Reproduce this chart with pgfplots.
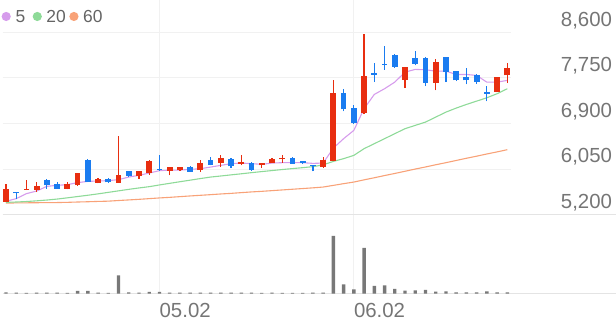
\documentclass[border=0pt]{standalone}
\usepackage{fontspec}
\setmainfont{Liberation Sans}
\usepackage{pgfplots}
\usepackage{pgfplotstable}
\pgfplotsset{compat=1.18}
\definecolor{upred}{RGB}{232,46,16}
\definecolor{dnblue}{RGB}{26,124,240}
\definecolor{volgray}{RGB}{120,120,120}
\definecolor{maA}{RGB}{214,156,236}
\definecolor{maB}{RGB}{142,218,152}
\definecolor{maC}{RGB}{248,162,120}
\definecolor{gridc}{RGB}{241,241,241}
\definecolor{sepc}{RGB}{228,228,228}
\definecolor{labc}{RGB}{117,117,117}
\definecolor{legc}{RGB}{100,100,100}

\pgfplotstableread{
i o h l c
0 5438 5764 5438 5684
2 5660 5851 5655 5680
3 5666 5807 5621 5727
6 5684 5801 5671 5777
7 5746 5985 5740 5975
9 5796 5889 5783 5870
11 5796 6664 5790 5945
13 5919 6010 5870 6006
14 5982 6224 5945 6205
16 6019 6090 5932 6082
17 6030 6085 6015 6080
19 6030 6217 5993 6168
21 6168 6304 6094 6260
23 6150 6317 6118 6180
25 6118 6165 6068 6161
26 6161 6250 6155 6242
27 6230 6317 6168 6260
31 6087 6273 6075 6224
32 6198 7714 6190 7464
35 7092 8570 7080 7775
39 7714 7955 7557 7948
42 7657 8092 7514 8042
48 7490 7770 7480 7763
49 7794 8023 7650 7937
}\upc

\pgfplotstableread{
i o h l c
1 5621 5621 5485 5597
4 5852 5860 5684 5746
5 5770 5807 5684 5684
8 6224 6242 5807 5807
10 5870 5875 5795 5800
12 6006 6015 5910 5919
15 6056 6317 6019 6030
18 6094 6100 5995 6001
20 6217 6267 6118 6131
22 6242 6250 6068 6099
24 6168 6180 6019 6038
28 6260 6265 6145 6150
29 6192 6195 6150 6160
30 6131 6131 6006 6110
33 7464 7546 7123 7160
34 7185 7235 6894 6913
36 7837 8030 7669 7810
37 8012 8334 7900 7990
38 8179 8185 7940 7948
40 8123 8247 7980 8012
41 8123 8130 7594 7657
43 8135 8142 7669 7855
44 7868 7880 7690 7700
45 7763 7937 7626 7700
46 7806 7815 7639 7669
47 7483 7589 7312 7453
}\dnc

\pgfplotstableread{
i m5 m20 m60
0 5448 5429 5416
1 5498 5435 5418
2 5591 5444 5420
3 5639 5457 5422
4 5727 5472 5423
5 5746 5490 5425
6 5758 5513 5429
7 5796 5537 5435
8 5820 5561 5440
9 5826 5587 5446
10 5833 5615 5451
11 5852 5643 5463
12 5900 5671 5474
13 5932 5697 5485
14 5975 5721 5498
15 6019 5753 5511
16 6030 5783 5522
17 6030 5813 5535
18 6043 5842 5548
19 6056 5872 5560
20 6086 5900 5572
21 6118 5920 5585
22 6150 5941 5596
23 6161 5961 5610
24 6150 5982 5623
25 6137 6002 5634
26 6161 6021 5647
27 6168 6040 5660
28 6168 6058 5673
29 6168 6075 5686
30 6155 6094 5699
31 6161 6127 5714
32 6440 6192 5745
33 6615 6243 5777
34 6770 6304 5807
35 7174 6429 5848
36 7440 6522 5887
37 7546 6615 5928
38 7669 6708 5967
39 7855 6801 6008
40 7906 6863 6049
41 7900 6924 6088
42 7874 7017 6129
43 7874 7110 6168
44 7812 7185 6209
45 7812 7253 6250
46 7794 7315 6289
47 7669 7378 6330
48 7669 7453 6369
49 7701 7546 6410
}\ma

\pgfplotstableread{
i v
0 1.3
1 1.0
2 0.8
3 1.0
4 1.0
5 1.0
6 0.8
7 2.7
8 2.7
9 1.0
10 0.8
11 18.3
12 1.3
13 1.0
14 1.7
15 1.7
16 1.0
17 1.0
18 1.0
19 1.0
20 1.0
21 1.0
22 1.0
23 1.0
24 1.0
25 0.8
26 1.0
27 0.8
28 0.8
29 0.8
30 1.0
31 1.0
32 57.7
33 9.3
34 4.3
35 45.7
36 7.7
37 8.3
38 4.7
39 3.0
40 3.3
41 3.7
42 2.0
43 2.3
44 1.3
45 1.3
46 1.3
47 2.3
48 1.3
49 1.3
}\vol

\newcommand{\labfont}{\fontsize{20.5}{24}\selectfont}
\newcommand{\legfont}{\fontsize{17.5}{21}\selectfont}

\begin{document}
\begin{tikzpicture}
\path (0bp,0bp) rectangle (616bp,321bp);

% background vertical grid + date labels
\begin{axis}[
  at={(2.7bp,27.7bp)}, anchor=south west, scale only axis,
  width=509bp, height=293.3bp,
  xmin=-0.32, xmax=49.39, ymin=0, ymax=1,
  axis line style={draw=none}, tick style={draw=none},
  ytick=\empty, xtick={15,34}, xticklabels={05.02,06.02},
  xmajorgrids, major grid style={gridc, line width=1bp},
  xticklabel style={anchor=base west, inner sep=0pt, yshift=-23.7bp, text=labc, font=\labfont},
]
\addplot[draw=none] coordinates {(0,0.5)};
\end{axis}

% volume
\begin{axis}[
  at={(2.7bp,27.7bp)}, anchor=south west, scale only axis,
  width=613.3bp, height=60bp,
  xmin=-0.32, xmax=59.57, ymin=0, ymax=60,
  axis x line*=bottom, axis y line=none,
  x axis line style={sepc, line width=1bp},
  xtick=\empty, ytick=\empty, tick style={draw=none},
  ybar, bar width=3.4bp,
]
\addplot[draw=none, fill=volgray] table[x=i, y=v] {\vol};
\end{axis}

% price
\begin{axis}[
  at={(2.7bp,106.7bp)}, anchor=south west, scale only axis,
  width=509bp, height=182.6bp,
  xmin=-0.32, xmax=49.39, ymin=5200, ymax=8600,
  axis line style={draw=none}, tick style={draw=none},
  xtick=\empty, ytick={5200,6050,6900,7750,8600},
  ymajorgrids, major grid style={gridc, line width=1bp},
  scaled y ticks=false,
  yticklabel pos=right,
  yticklabel style={anchor=base east, inner sep=0pt, xshift=101bp, yshift=6.05bp, text=labc, font=\labfont,
    /pgf/number format/.cd, 1000 sep={,}, assume math mode=true},
  clip=false,
]
\addplot[maC, line width=1.1bp] table[x=i, y=m60] {\ma};
\addplot[maB, line width=1.1bp] table[x=i, y=m20] {\ma};
\addplot[maA, line width=1.1bp] table[x=i, y=m5] {\ma};
% wicks
\addplot[draw=none, mark=none, error bars/.cd, y dir=plus, y explicit, error mark=none,
  error bar style={draw=upred, line width=1.2bp}]
  table[x=i, y=l, y error plus expr={\thisrow{h}-\thisrow{l}}] {\upc};
\addplot[draw=none, mark=none, error bars/.cd, y dir=plus, y explicit, error mark=none,
  error bar style={draw=dnblue, line width=1.2bp}]
  table[x=i, y=l, y error plus expr={\thisrow{h}-\thisrow{l}}] {\dnc};
% bodies
\addplot[draw=none, mark=none, error bars/.cd, y dir=plus, y explicit, error mark=none,
  error bar style={draw=upred, line width=5.8bp}]
  table[x=i, y=o, y error plus expr={max(\thisrow{c}-\thisrow{o},22)}] {\upc};
\addplot[draw=none, mark=none, error bars/.cd, y dir=plus, y explicit, error mark=none,
  error bar style={draw=dnblue, line width=5.8bp}]
  table[x=i, y=c, y error plus expr={max(\thisrow{o}-\thisrow{c},22)}] {\dnc};
\end{axis}

% separator line
\draw[sepc, line width=1bp] (2.7bp,106.7bp) -- (616bp,106.7bp);

% legend
\fill[maA] (6.2bp,305bp) circle (4.6bp);
\node[anchor=base west, inner sep=0pt, text=legc, font=\legfont] at (15.5bp,298.7bp) {5};
\fill[maB] (37.3bp,305bp) circle (4.6bp);
\node[anchor=base west, inner sep=0pt, text=legc, font=\legfont] at (46.3bp,298.7bp) {20};
\fill[maC] (74bp,305bp) circle (4.6bp);
\node[anchor=base west, inner sep=0pt, text=legc, font=\legfont] at (83bp,298.7bp) {60};
\end{tikzpicture}
\end{document}
